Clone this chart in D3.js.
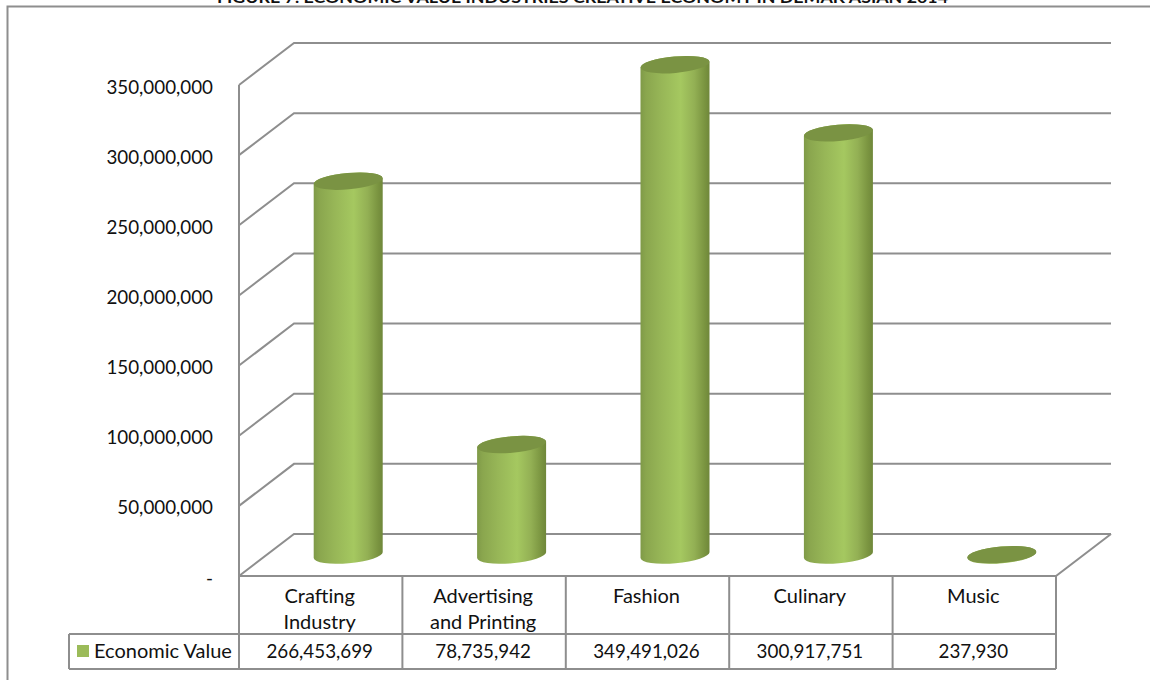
<!DOCTYPE html>
<html>
<head>
<meta charset="utf-8">
<script src="https://cdn.jsdelivr.net/npm/d3@7/dist/d3.min.js"></script>
<style>
html, body { margin: 0; padding: 0; background: #fff; overflow: hidden; }
text { font-family: Lato, "Open Sans", sans-serif; fill: #111; }
</style>
</head>
<body>
<svg id="chart" width="1150" height="680"></svg>
<script>
const titleText = "FIGURE 7. ECONOMIC VALUE INDUSTRIES CREATIVE ECONOMY IN DEMAK ASIAN 2014";
const categories = ["Crafting Industry", "Advertising and Printing", "Fashion", "Culinary", "Music"];
const categoryLines = [["Crafting", "Industry"], ["Advertising", "and Printing"], ["Fashion"], ["Culinary"], ["Music"]];
const values = [266453699, 78735942, 349491026, 300917751, 237930];
const valueLabels = ["266,453,699", "78,735,942", "349,491,026", "300,917,751", "237,930"];
const tickValues = [0, 50000000, 100000000, 150000000, 200000000, 250000000, 300000000, 350000000];
const seriesName = "Economic Value";

const svg = d3.select("#chart");
const lineColor = "#8e8e8e";

// Oblique projection of the 3D box: the back wall is shifted by depth
const depthX = 55, depthY = 42;
const x = d3.scaleBand().domain(categories).range([239, 1056]);
const y = d3.scaleLinear().domain([0, 350000000]).range([576, 85]);

// Outer frame, open on the right and bottom
svg.append("path")
  .attr("d", "M7.5 680V6.5H1150")
  .attr("fill", "none").attr("stroke", lineColor).attr("stroke-width", 2);

svg.append("text").attr("x", 582.5).attr("y", 3)
  .attr("text-anchor", "middle").attr("font-weight", 700).attr("font-size", 14.5)
  .attr("textLength", 731).attr("lengthAdjust", "spacingAndGlyphs")
  .text(titleText);

// Gradient of the cylinder side, darkening to both edges
const defs = svg.append("defs");
const grad = defs.append("linearGradient").attr("id", "cyl").attr("x1", 0).attr("x2", 1).attr("y1", 0).attr("y2", 0);
[[0, "#7f9a48"], [0.08, "#8aa64e"], [0.3, "#97b657"], [0.58, "#a5c860"], [0.78, "#93b054"], [0.93, "#7a9440"], [1, "#6f873a"]]
  .forEach(([o, c]) => grad.append("stop").attr("offset", o).attr("stop-color", c));

// Gridlines on side wall and back wall
const grid = svg.append("g").attr("fill", "none").attr("stroke", lineColor).attr("stroke-width", 2);
grid.selectAll("path").data(tickValues).join("path")
  .attr("d", d => `M${x.range()[0]} ${y(d)}L${x.range()[0] + depthX} ${y(d) - depthY}H${x.range()[1] + depthX}`);
grid.append("path")
  .attr("d", `M${x.range()[0]} ${y(350000000)}V${y(0)}H${x.range()[1]}L${x.range()[1] + depthX} ${y(0) - depthY}`);

// Value axis labels
const axis = d3.axisLeft(y).tickValues(tickValues).tickSize(0).tickPadding(0)
  .tickFormat(d => d === 0 ? "-" : d3.format(",")(d));
const axisG = svg.append("g").attr("transform", "translate(213,2)").call(axis);
axisG.select(".domain").remove();
axisG.selectAll("text").attr("font-size", 18.8).style("font-family", "Lato, sans-serif").attr("fill", "#111");

// Cylinders stand in the middle of the floor depth
const rx = 34.5, ry = 8.2, tilt = 3, tiltDeg = -5;
const cyl = svg.append("g").selectAll("g").data(categories).join("g");
cyl.each(function (c, i) {
  const g = d3.select(this);
  const cx = x(c) + x.bandwidth() / 2 + depthX / 2;
  const yBase = y(0) - depthY / 2;
  const yTop = y(values[i]) - depthY / 2;
  const arc = (dx, dy, sweep) => `A${rx} ${ry} ${tiltDeg} 0 ${sweep} ${dx} ${dy}`;
  const L = cx - rx, R = cx + rx;
  g.append("path")
    .attr("fill", "url(#cyl)")
    .attr("d", `M${L} ${yTop + tilt}L${L} ${yBase + tilt}` + arc(R, yBase - tilt, 0) + `L${R} ${yTop - tilt}` + arc(L, yTop + tilt, 0) + "Z");
  g.append("ellipse")
    .attr("cx", cx).attr("cy", yTop).attr("rx", rx).attr("ry", ry)
    .attr("transform", `rotate(${tiltDeg} ${cx} ${yTop})`)
    .attr("fill", "#7a9343");
});

// Data table below the floor
const rowTop = 576, rowMid = 634, rowBottom = 669, legendLeft = 69;
const table = svg.append("g").attr("fill", "none").attr("stroke", lineColor).attr("stroke-width", 2);
table.append("path").attr("d", `M${legendLeft} ${rowMid}H${x.range()[1]}M${legendLeft} ${rowBottom}H${x.range()[1]}M${legendLeft} ${rowMid}V${rowBottom}`);
table.selectAll("line").data(categories.map(c => x(c)).concat(x.range()[1])).join("line")
  .attr("x1", d => d).attr("x2", d => d).attr("y1", rowTop).attr("y2", rowBottom);

const labels = svg.append("g").attr("text-anchor", "middle");
categories.forEach((c, i) => {
  const cx = x(c) + x.bandwidth() / 2;
  categoryLines[i].forEach((line, j) => {
    labels.append("text").attr("x", cx - 1).attr("y", 603 + j * 26).attr("font-size", 20).text(line);
  });
  labels.append("text").attr("x", cx - 1).attr("y", 658).attr("font-size", 18.8).text(valueLabels[i]);
});

// Legend key in the table's first cell
svg.append("rect").attr("x", 77).attr("y", 645).attr("width", 12).attr("height", 12).attr("fill", "#9bbb59");
svg.append("text").attr("x", 94).attr("y", 658).attr("font-size", 20).text(seriesName);
</script>
</body>
</html>
